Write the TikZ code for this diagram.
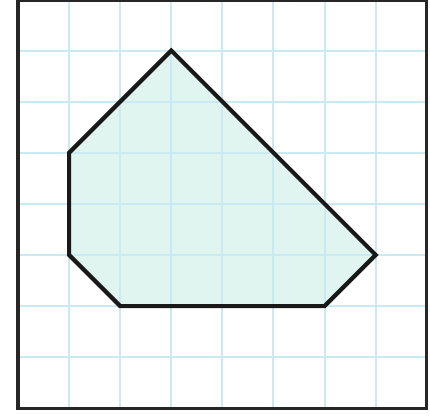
\documentclass[tikz,border=0pt]{standalone}
\definecolor{gridblue}{HTML}{C9EAF2}
\definecolor{shapefill}{HTML}{E0F4F0}
\tikzset{
  gridline/.style={draw=gridblue, line width=1.1pt},
  frame/.style={draw=black!85, line width=1.7pt},
  polyline/.style={draw=black!90, line width=2.3pt, line join=miter}
}
\begin{document}
\begin{tikzpicture}
\useasboundingbox (-0.352,-0.17) rectangle (8.063,7.99);
\fill[white] (-0.352,-0.17) rectangle (8.063,7.99);
\fill[shapefill] (3,7) -- (1,5) -- (1,3) -- (2,2) -- (6,2) -- (7,3) -- cycle;
\foreach \i in {1,...,7} {
  \draw[gridline] (\i,0) -- (\i,8);
  \draw[gridline] (0,\i) -- (8,\i);
}
\draw[polyline] (3,7) -- (1,5) -- (1,3) -- (2,2) -- (6,2) -- (7,3) -- cycle;
\draw[frame] (0,0) rectangle (8,7.98);
\end{tikzpicture}
\end{document}
